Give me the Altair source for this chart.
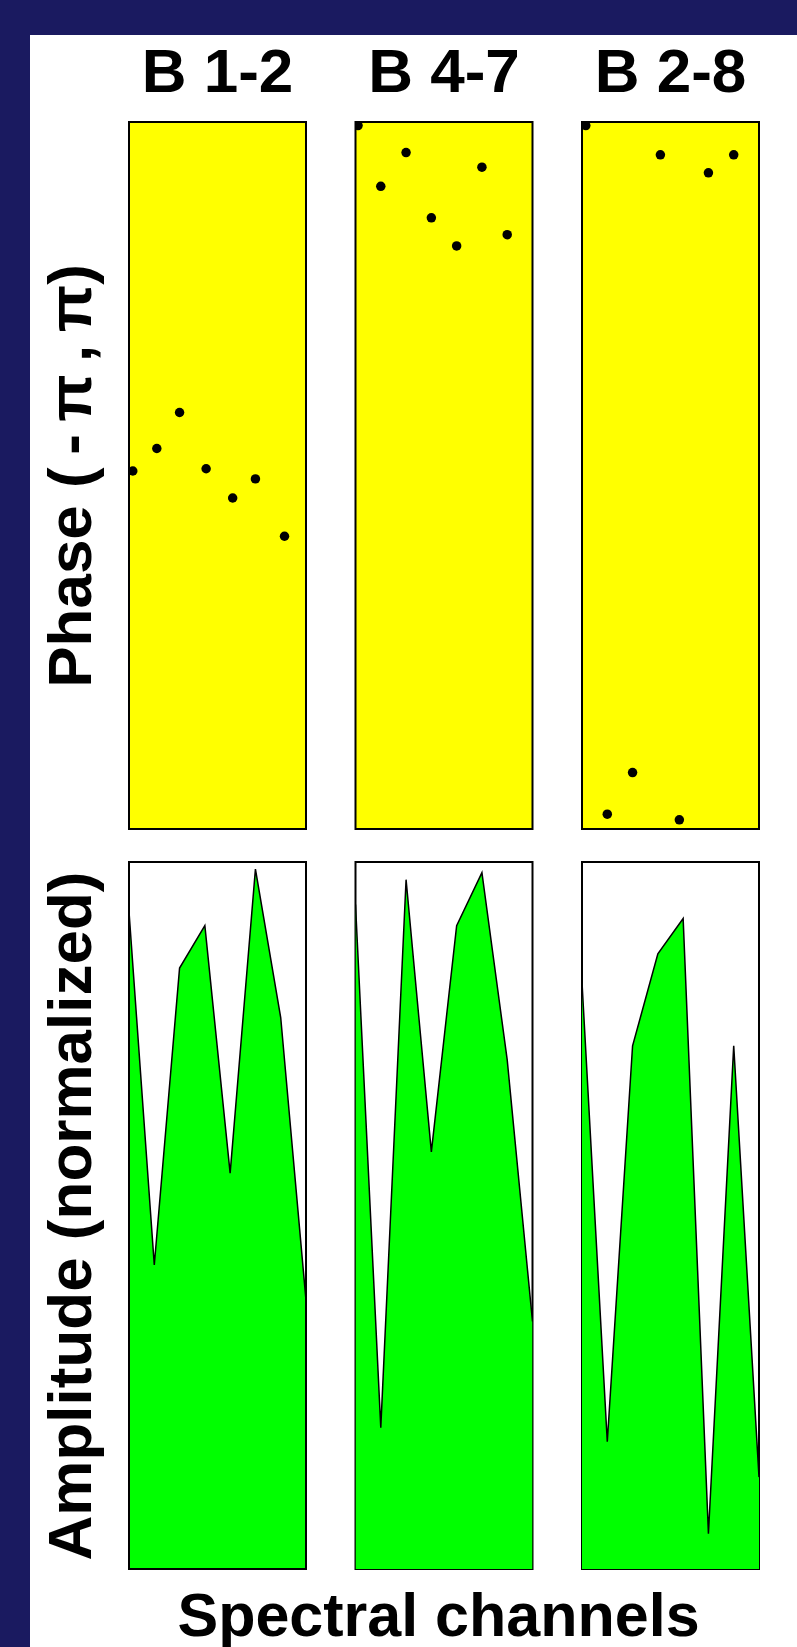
import math
import altair as alt
import pandas as pd

NAVY = "#1a1a60"
YELLOW = "#ffff00"
GREEN = "#00ff00"
FONT = "Liberation Sans"

# ---- data ----
baselines = ["B 1-2", "B 4-7", "B 2-8"]

# phase panels: channel position and phase (radians, range -pi..pi)
phase_ch_b12 = [0.15, 1.1, 2.0, 3.05, 4.1, 5.0, 6.15]
phase_b12 = [0.04, 0.24, 0.56, 0.06, -0.20, -0.03, -0.54]
phase_ch_b47 = [0.1, 1.0, 2.0, 3.0, 4.0, 5.0, 6.0]
phase_b47 = [3.11, 2.57, 2.87, 2.29, 2.04, 2.74, 2.14]
phase_ch_b28 = [0.15, 1.0, 2.0, 3.1, 3.85, 5.0, 6.0]
phase_b28 = [3.11, -3.01, -2.64, 2.85, -3.06, 2.69, 2.85]

# amplitude panels (normalized)
amp_ch = [0, 1, 2, 3, 4, 5, 6, 7]
amp_b12 = [0.93, 0.43, 0.85, 0.91, 0.56, 0.99, 0.78, 0.38]
amp_b47 = [0.94, 0.20, 0.975, 0.59, 0.91, 0.985, 0.72, 0.35]
amp_b28 = [0.83, 0.18, 0.74, 0.87, 0.92, 0.05, 0.74, 0.13]

phase_ch = [phase_ch_b12, phase_ch_b47, phase_ch_b28]
phase_vals = [phase_b12, phase_b47, phase_b28]
amp_vals = [amp_b12, amp_b47, amp_b28]

PW, PH = 177, 707
ROW_GAP, COL_GAP = 33, 49.5
LEFT = 129                      # page x of the first panel column
BOT_TOP = 122 + PH + ROW_GAP    # page y of the amplitude row
BAND_L, BAND_T = 30, 35         # navy frame thickness
PAGE_W, PAGE_H = 797, 1647

xscale = alt.Scale(domain=[0, 7], nice=False, zero=False)
one = pd.DataFrame({"k": [0]})


def title_axis(text, size, pad, **extra):
    return alt.Axis(title=text, labels=False, ticks=False, domain=False, grid=False,
                    titleFont=FONT, titleFontSize=size, titleFontWeight="bold",
                    titleColor="black", titlePadding=pad, **extra)


def band(x0, x1, y0, y1):
    return alt.Chart(one).mark_rect(color=NAVY, opacity=1).encode(
        x=alt.value(x0), x2=alt.value(x1), y=alt.value(y0), y2=alt.value(y1)
    )


panels = []
for i in range(3):
    df = pd.DataFrame({"channel": phase_ch[i], "phase": phase_vals[i]})
    yscale = alt.Scale(domain=[-math.pi, math.pi], nice=False, zero=False)
    if i == 0:
        ycol = alt.Y("phase:Q", scale=yscale,
                     axis=title_axis("Phase (\u2009-\u2009π\u2009,\u2009π)", 62, 26))
    else:
        ycol = alt.Y("phase:Q", scale=yscale, axis=None)
    pts = alt.Chart(df).mark_circle(color="black", size=90, opacity=1, clip=True).encode(
        x=alt.X("channel:Q", scale=xscale, axis=None),
        y=ycol,
    ).properties(
        width=PW, height=PH,
        title=alt.TitleParams(text=baselines[i], font=FONT, fontSize=62, fontWeight="bold",
                              color="black", anchor="middle", baseline="alphabetic",
                              offset=-32),
        view=alt.ViewBackground(fill=YELLOW, stroke="black", strokeWidth=2),
    )
    panels.append(pts)

for i in range(3):
    df = pd.DataFrame({"channel": amp_ch, "amp": amp_vals[i]})
    yscale = alt.Scale(domain=[0, 1], nice=False, zero=False)
    if i == 0:
        ycol = alt.Y("amp:Q", scale=yscale, axis=title_axis("Amplitude (normalized)", 62, 26))
    else:
        ycol = alt.Y("amp:Q", scale=yscale, axis=None)
    if i == 1:
        xcol = alt.X("channel:Q", scale=xscale,
                     axis=title_axis("Spectral channels", 61, 18, titleX=82.5))
    else:
        xcol = alt.X("channel:Q", scale=xscale, axis=None)
    area = alt.Chart(df).mark_area(
        color=GREEN, opacity=1, clip=True,
        line=alt.OverlayMarkDef(color="black", strokeWidth=1.5),
    ).encode(x=xcol, y=ycol)
    if i == 0:
        # navy frame of the slide (top and left bands) around the panel grid;
        # this panel's border is drawn as a mark so the frame sets the page corner
        border = alt.Chart(one).mark_rect(
            fillOpacity=0, stroke="black", strokeWidth=2
        ).encode(x=alt.value(0), x2=alt.value(PW), y=alt.value(0), y2=alt.value(PH))
        c = alt.layer(
            band(-LEFT, PAGE_W - LEFT, -BOT_TOP, BAND_T - BOT_TOP),
            band(-LEFT, BAND_L - LEFT, -BOT_TOP, PAGE_H - BOT_TOP),
            area,
            border,
        ).properties(width=PW, height=PH,
                     view=alt.ViewBackground(fill="white", strokeWidth=0))
    else:
        c = area.properties(
            width=PW, height=PH,
            view=alt.ViewBackground(fill="white", stroke="black", strokeWidth=2),
        )
    panels.append(c)

chart = alt.concat(
    *panels, columns=3, spacing={"row": ROW_GAP, "column": COL_GAP}, bounds="flush"
).properties(
    padding=0, background="white"
).configure_view(strokeWidth=0)

chart.save("out.html", embed_options={"renderer": "svg", "actions": False})
